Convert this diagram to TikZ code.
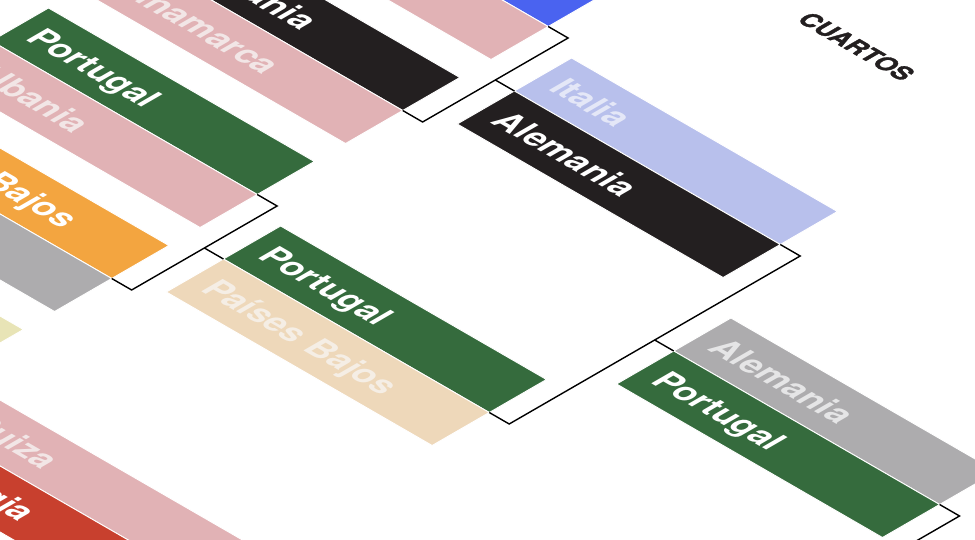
\documentclass[tikz,border=0pt]{standalone}
\usepackage{fontspec}
\setmainfont{TeX Gyre Heros}
\newfontfamily\roundfont{TeX Gyre Heros}[BoldFeatures={FakeBold=1.6}]
\usepackage{tikz}
\usetikzlibrary{positioning}
\definecolor{porgreen}{HTML}{356B3D}
\definecolor{gerblack}{HTML}{231F20}
\definecolor{itablue}{HTML}{4A63F0}
\definecolor{nedorange}{HTML}{F3A540}
\definecolor{georred}{HTML}{C8402E}
\definecolor{paleyellow}{HTML}{E8E4B6}
\definecolor{fadepink}{HTML}{E1B2B5}
\definecolor{fadepinktxt}{HTML}{F2E6E6}
\definecolor{fadeblue}{HTML}{B8C0EC}
\definecolor{fadebluetxt}{HTML}{E4E7F7}
\definecolor{fadegrey}{HTML}{ADACAE}
\definecolor{fadegreytxt}{HTML}{E5E5E6}
\definecolor{fadebeige}{HTML}{EED8BA}
\definecolor{fadebeigetxt}{HTML}{F5EEE5}

\begin{document}
\begin{tikzpicture}[
  x=1pt, y=1pt,
  teambar/.style={transform shape, anchor=south west, minimum width=307pt,
                  minimum height=66pt, inner xsep=17pt, inner ysep=0pt, outer sep=0pt,
                  text width=273pt, text height=24.4pt, text depth=0pt, align=left,
                  draw=white, line width=0.9pt, text=white,
                  font=\bfseries\fontsize{34}{34}\selectfont},
  bracket/.style={draw=black, line width=1.4pt, line join=miter}
]
\useasboundingbox (0,0) rectangle (975,-540);
\clip (0,0) rectangle (975,-540);

% isometric floor: x runs down the bars, y across them
\begin{scope}[cm={0.866,-0.5,0.866,0.5,(0,0)}]
% octavos
\node[teambar, fill=itablue] (o1top) at (36,290) {};
\node[teambar, fill=fadepink, below=0pt of o1top] (o1bot) {};
\node[teambar, fill=gerblack] (o2top) at (36,122) {Alemania};
\node[teambar, fill=fadepink, text=fadepinktxt, below=0pt of o2top] (o2bot) {Dinamarca};
\node[teambar, fill=porgreen] (o3top) at (36,-46) {Portugal};
\node[teambar, fill=fadepink, text=fadepinktxt, below=0pt of o3top] (o3bot) {Albania};
\node[teambar, fill=nedorange] (o4top) at (36,-214) {Países Bajos};
\node[teambar, fill=fadegrey, below=0pt of o4top] (o4bot) {};
\node[teambar, fill=paleyellow] (o5top) at (36,-382) {};

% cuartos
\node[teambar, fill=fadeblue, text=fadebluetxt] (c1top) at (388,206) {Italia};
\node[teambar, fill=gerblack, below=0pt of c1top] (c1bot) {Alemania};
\node[teambar, fill=porgreen] (c2top) at (388,-130) {Portugal};
\node[teambar, fill=fadebeige, text=fadebeigetxt, below=0pt of c2top] (c2bot) {Países Bajos};
\node[teambar, fill=fadepink, text=fadepinktxt] (c3top) at (388,-466) {Suiza};
\node[teambar, fill=georred, below=0pt of c3top] (c3bot) {Georgia};

% semis
\node[teambar, fill=fadegrey, text=fadegreytxt] (s1top) at (740,38) {Alemania};
\node[teambar, fill=porgreen, below=0pt of s1top] (s1bot) {Portugal};
\coordinate (semi) at (1070,-634);

\node[transform shape, anchor=base, text=gerblack,
      font=\roundfont\bfseries\fontsize{25}{25}\selectfont] (cuartos) at (541,439) {CUARTOS};

\draw[bracket] (o1top.south east) -- ++(23,0) -- ++(0,-168) -- (o2top.south east);
\draw[bracket] (c1top.south west) -- ++(-22,0);
\draw[bracket] (o3top.south east) -- ++(23,0) -- ++(0,-168) -- (o4top.south east);
\draw[bracket] (c2top.south west) -- ++(-22,0);
\draw[bracket] (c1top.south east) -- ++(23,0) -- ++(0,-336) -- (c2top.south east);
\draw[bracket] (s1top.south west) -- ++(-22,0);
\draw[bracket] (s1top.south east) -- ++(23,0) -- (semi);
\end{scope}
\end{tikzpicture}
\end{document}
